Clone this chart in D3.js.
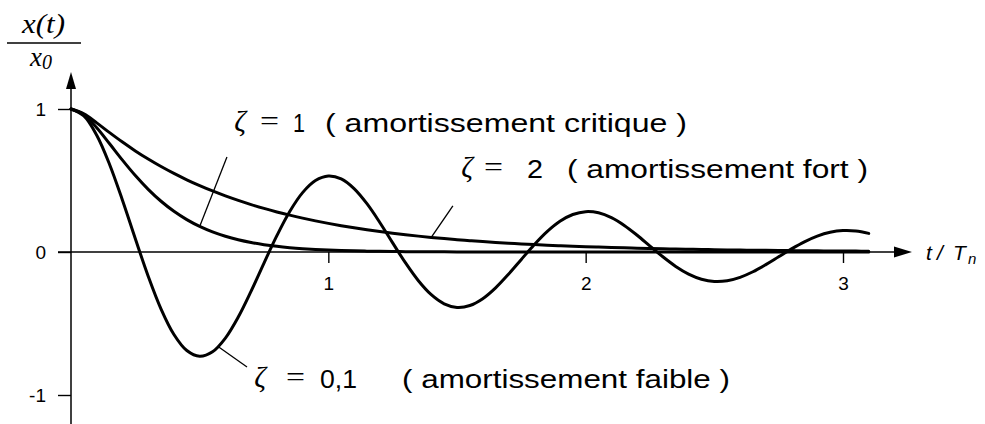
<!DOCTYPE html>
<html>
<head>
<meta charset="utf-8">
<script src="https://cdn.jsdelivr.net/npm/d3@7/dist/d3.min.js"></script>
<style>
  html, body { margin: 0; padding: 0; background: #fff; }
  svg { display: block; }
</style>
</head>
<body>
<svg id="chart" width="985" height="424"></svg>
<script>
// Free response of a damped oscillator, x(t)/x0 versus t/Tn
const tValues = [
  0.00, 0.05, 0.10, 0.15, 0.20, 0.25, 0.30, 0.35, 0.40, 0.45,
  0.50, 0.55, 0.60, 0.65, 0.70, 0.75, 0.80, 0.85, 0.90, 0.95,
  1.00, 1.05, 1.10, 1.15, 1.20, 1.25, 1.30, 1.35, 1.40, 1.45,
  1.50, 1.55, 1.60, 1.65, 1.70, 1.75, 1.80, 1.85, 1.90, 1.95,
  2.00, 2.05, 2.10, 2.15, 2.20, 2.25, 2.30, 2.35, 2.40, 2.45,
  2.50, 2.55, 2.60, 2.65, 2.70, 2.75, 2.80, 2.85, 2.90, 2.95,
  3.00, 3.05, 3.10
];

// zeta = 0,1 (weak damping)
const zeta01 = [
  1.0000, 0.9521, 0.8167, 0.6121, 0.3619, 0.0926, -0.1691, -0.3988, -0.5767, -0.6890,
  -0.7292, -0.6977, -0.6019, -0.4549, -0.2736, -0.0775, 0.1141, 0.2832, 0.4151, 0.4996,
  0.5315, 0.5111, 0.4435, 0.3378, 0.2066, 0.0637, -0.0765, -0.2009, -0.2986, -0.3621,
  -0.3874, -0.3744, -0.3266, -0.2508, -0.1558, -0.0518, 0.0508, 0.1423, 0.2148, 0.2624,
  0.2823, 0.2741, 0.2405, 0.1861, 0.1173, 0.0416, -0.0334, -0.1007, -0.1543, -0.1901,
  -0.2056, -0.2007, -0.1770, -0.1380, -0.0882, -0.0332, 0.0217, 0.0712, 0.1109, 0.1376,
  0.1497, 0.1469, 0.1302
];

// zeta = 1 (critical damping)
const zeta1 = [
  1.0000, 0.9599, 0.8687, 0.7569, 0.6423, 0.5344, 0.4381, 0.3548, 0.2846, 0.2265,
  0.1790, 0.1406, 0.1100, 0.0856, 0.0664, 0.0513, 0.0395, 0.0304, 0.0233, 0.0178,
  0.0136, 0.0104, 0.0079, 0.0060, 0.0045, 0.0034, 0.0026, 0.0020, 0.0015, 0.0011,
  0.0008, 0.0006, 0.0005, 0.0004, 0.0003, 0.0002, 0.0002, 0.0001, 0.0001, 0.0001,
  0.0000, 0.0000, 0.0000, 0.0000, 0.0000, 0.0000, 0.0000, 0.0000, 0.0000, 0.0000,
  0.0000, 0.0000, 0.0000, 0.0000, 0.0000, 0.0000, 0.0000, 0.0000, 0.0000, 0.0000,
  0.0000, 0.0000, 0.0000
];

// zeta = 2 (strong damping)
const zeta2 = [
  1.0000, 0.9664, 0.9030, 0.8346, 0.7686, 0.7070, 0.6501, 0.5976, 0.5494, 0.5051,
  0.4643, 0.4268, 0.3923, 0.3607, 0.3315, 0.3048, 0.2802, 0.2576, 0.2368, 0.2176,
  0.2001, 0.1839, 0.1691, 0.1554, 0.1429, 0.1313, 0.1207, 0.1110, 0.1020, 0.0938,
  0.0862, 0.0793, 0.0729, 0.0670, 0.0616, 0.0566, 0.0520, 0.0478, 0.0440, 0.0404,
  0.0372, 0.0342, 0.0314, 0.0289, 0.0265, 0.0244, 0.0224, 0.0206, 0.0190, 0.0174,
  0.0160, 0.0147, 0.0135, 0.0124, 0.0114, 0.0105, 0.0097, 0.0089, 0.0082, 0.0075,
  0.0069, 0.0063, 0.0058
];

const xTickValues = [1, 2, 3];
const xTickLabels = ["1", "2", "3"];
const yTickValues = [1, 0, -1];
const yTickLabels = ["1", "0", "-1"];

const zetaLabels = ["1", "2", "0,1"];
const regimeLabels = [
  "( amortissement critique )",
  "( amortissement fort )",
  "( amortissement faible )"
];
const xAxisTitle = ["t", "/", "T", "n"];
const yAxisTitle = ["x(t)", "x", "0"];

// ---------------------------------------------------------------------------
const svg = d3.select("#chart");
const sans = "'Liberation Sans', Arial, Helvetica, sans-serif";
const serif = "'Liberation Serif', 'Times New Roman', serif";

const x = d3.scaleLinear().domain([0, 3]).range([71, 843]);
const y = d3.scaleLinear().domain([-1, 1]).range([395, 109]);

const series = [zeta1, zeta2, zeta01];

function valueAt(values, t) {
  const i = Math.min(d3.bisectLeft(tValues, t), tValues.length - 1);
  if (i === 0) return values[0];
  const t0 = tValues[i - 1], t1 = tValues[i];
  const f = (t - t0) / (t1 - t0);
  return values[i - 1] + f * (values[i] - values[i - 1]);
}

// Axis lines with arrow heads
const x0 = x(0), yZero = y(0);
svg.append("line")
  .attr("x1", 58).attr("y1", yZero).attr("x2", 898).attr("y2", yZero)
  .attr("stroke", "#000").attr("stroke-width", 1.5);
svg.append("path")
  .attr("d", `M${912},${yZero} L${894},${yZero - 5.5} L${894},${yZero + 5.5} Z`)
  .attr("fill", "#000");

svg.append("line")
  .attr("x1", x0).attr("y1", 86).attr("x2", x0).attr("y2", 424)
  .attr("stroke", "#000").attr("stroke-width", 1.5);
svg.append("path")
  .attr("d", `M${x0},${72} L${x0 - 5},${89} L${x0 + 5},${89} Z`)
  .attr("fill", "#000");

// Ticks and tick labels
const xAxis = d3.axisBottom(x)
  .tickValues(xTickValues)
  .tickFormat((d, i) => xTickLabels[i])
  .tickSize(11)
  .tickPadding(14);
const gx = svg.append("g").attr("transform", `translate(0,${yZero})`).call(xAxis);
gx.select(".domain").remove();
gx.selectAll("line").attr("stroke", "#000").attr("stroke-width", 1.4);
gx.selectAll("text").attr("font-family", sans).attr("font-size", 19).attr("fill", "#000");

const yAxis = d3.axisLeft(y)
  .tickValues(yTickValues)
  .tickFormat((d, i) => yTickLabels[i])
  .tickSize(13)
  .tickPadding(12);
const gy = svg.append("g").attr("transform", `translate(${x0},0)`).call(yAxis);
gy.select(".domain").remove();
gy.selectAll("line").attr("stroke", "#000").attr("stroke-width", 1.4);
gy.selectAll("text").attr("font-family", sans).attr("font-size", 19).attr("fill", "#000");

// Response curves
const line = d3.line()
  .x((d, i) => x(tValues[i]))
  .y(d => y(d))
  .curve(d3.curveCatmullRom.alpha(0.5));

svg.append("g").selectAll("path")
  .data(series)
  .join("path")
  .attr("d", d => line(d))
  .attr("fill", "none")
  .attr("stroke", "#000")
  .attr("stroke-width", 3)
  .attr("stroke-linejoin", "round")
  .attr("stroke-linecap", "round");

// Leader lines from the labels to their curves
const leaders = [
  { values: zeta1,  tCurve: 0.50, from: [0.606, 0.664] },
  { values: zeta2,  tCurve: 1.40, from: [1.484, 0.322] },
  { values: zeta01, tCurve: 0.57, from: [0.684, -0.804] }
];
svg.append("g").selectAll("line")
  .data(leaders)
  .join("line")
  .attr("x1", d => x(d.from[0])).attr("y1", d => y(d.from[1]))
  .attr("x2", d => x(d.tCurve)).attr("y2", d => y(valueAt(d.values, d.tCurve)))
  .attr("stroke", "#000")
  .attr("stroke-width", 1.3);

// Curve labels
const labelLayout = [
  { zx: 240,   ex: 270,   nx: 293, nw: 12, px: 325, pw: 362, base: 132 },
  { zx: 467,   ex: 494,   nx: 527, nw: 16, px: 567, pw: 301, base: 178 },
  { zx: 260,   ex: 296,   nx: 320, nw: 37, px: 402, pw: 328, base: 388 }
];
const lab = svg.append("g").selectAll("g")
  .data(labelLayout)
  .join("g");

lab.append("text")
  .attr("x", d => d.zx).attr("y", d => d.base - 1)
  .attr("text-anchor", "middle")
  .attr("font-family", serif).attr("font-style", "italic")
  .attr("font-size", 29)
  .text("ζ");
lab.append("text")
  .attr("x", d => d.ex - 10).attr("y", d => d.base - 2)
  .attr("font-family", serif)
  .attr("font-size", 28)
  .attr("textLength", 19).attr("lengthAdjust", "spacingAndGlyphs")
  .text("=");
lab.append("text")
  .attr("x", d => d.nx).attr("y", d => d.base)
  .attr("font-family", sans).attr("font-size", 26)
  .attr("textLength", d => d.nw).attr("lengthAdjust", "spacingAndGlyphs")
  .text((d, i) => zetaLabels[i]);
lab.append("text")
  .attr("x", d => d.px).attr("y", d => d.base)
  .attr("font-family", sans).attr("font-size", 26)
  .attr("textLength", d => d.pw).attr("lengthAdjust", "spacingAndGlyphs")
  .text((d, i) => regimeLabels[i]);

// Axis titles
const xTitleLayout = [
  { x: 926, dy: 0, size: 21 },
  { x: 937, dy: 0, size: 21 },
  { x: 953, dy: 0, size: 21 },
  { x: 968, dy: 4, size: 15 }
];
svg.append("g").selectAll("text")
  .data(xTitleLayout)
  .join("text")
  .attr("x", d => d.x).attr("y", d => 260 + d.dy)
  .attr("font-family", sans).attr("font-style", "italic")
  .attr("font-size", d => d.size)
  .text((d, i) => xAxisTitle[i]);

svg.append("text")
  .attr("x", 22).attr("y", 33)
  .attr("font-family", serif).attr("font-style", "italic").attr("font-size", 27)
  .attr("textLength", 43).attr("lengthAdjust", "spacingAndGlyphs")
  .text(yAxisTitle[0]);
svg.append("line")
  .attr("x1", 7).attr("y1", 43).attr("x2", 81).attr("y2", 43)
  .attr("stroke", "#000").attr("stroke-width", 1.6);
const yt = svg.append("text")
  .attr("x", 30).attr("y", 66)
  .attr("font-family", serif).attr("font-style", "italic").attr("font-size", 27);
yt.append("tspan").text(yAxisTitle[1]);
yt.append("tspan").attr("dy", 3).attr("font-size", 20).text(yAxisTitle[2]);
</script>
</body>
</html>
